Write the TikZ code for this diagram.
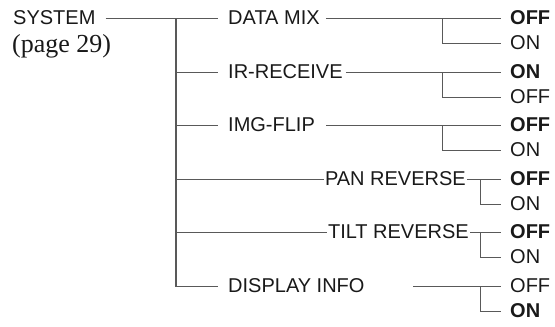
\documentclass[tikz,border=0pt]{standalone}
\usepackage{fontspec}
\setmainfont{Liberation Sans}
\newfontfamily\pageserif{Liberation Serif}
\usetikzlibrary{positioning}

\begin{document}
\begin{tikzpicture}[
  x=1pt, y=-1pt,
  every node/.style={font=\fontsize{20}{22}\selectfont, text=black!90, inner ysep=1pt},
  item/.style={anchor=west, inner xsep=3pt},
  option/.style={anchor=west, inner xsep=9pt},
  link/.style={draw=black!65, line width=1pt},
  trunk/.style={draw=black!65, line width=1.5pt}
]
  \useasboundingbox (0,0) rectangle (555,327);

  \node[anchor=west, inner xsep=0pt] (sys) at (13,18) {SYSTEM};
  \node[anchor=west, inner xsep=0pt, font=\pageserif\fontsize{26}{28}\selectfont] (page) at (12,46) {(page 29)};

  \node[item] (dmix) at (225,18) {DATA MIX};
  \node[item] (irr) at (225,72) {IR-RECEIVE};
  \node[item] (imgf) at (225,125) {IMG-FLIP};
  \node[anchor=east, inner xsep=1pt] (panr) at (467,179) {PAN REVERSE};
  \node[anchor=east, inner xsep=1pt] (tiltr) at (470,232) {TILT REVERSE};
  \node[item] (dinfo) at (225,286) {DISPLAY INFO};

  \node[option] (dmixoff) at (501,18) {\bfseries OFF};
  \node[option] (dmixon) at (501,43) {ON};
  \node[option] (irron) at (501,72) {\bfseries ON};
  \node[option] (irroff) at (501,97) {OFF};
  \node[option] (imgfoff) at (501,125) {\bfseries OFF};
  \node[option] (imgfon) at (501,150) {ON};
  \node[option] (panroff) at (501,179) {\bfseries OFF};
  \node[option] (panron) at (501,204) {ON};
  \node[option] (tiltroff) at (501,232) {\bfseries OFF};
  \node[option] (tiltron) at (501,257) {ON};
  \node[option] (dinfooff) at (501,286) {OFF};
  \node[option] (dinfoon) at (501,311) {\bfseries ON};

  \coordinate (t0) at (176,18);
  \coordinate (t1) at (176,72);
  \coordinate (t2) at (176,125);
  \coordinate (t3) at (176,179);
  \coordinate (t4) at (176,232);
  \coordinate (s0) at (442,18);
  \coordinate (s1) at (442,72);
  \coordinate (s2) at (442,125);
  \coordinate (s3) at (480,179);
  \coordinate (s4) at (480,232);
  \coordinate (s5) at (480,286);
  \coordinate (d5) at (413,286);

  % main tree
  \draw[link] (sys.east) ++(10,0) -- (218,18);
  \draw[trunk] (t0) -- (176,286);
  \draw[link] (175.25,286) -- (218,286);
  \draw[link] (t1) -- (218,72);
  \draw[link] (t2) -- (218,125);
  \draw[link] (t3) -- (panr.west);
  \draw[link] (t4) -- (tiltr.west);

  % settings
  \draw[link] (dmix.east) ++(3,0) -- (dmixoff.west);
  \draw[link] (s0) |- (dmixon.west);
  \draw[link] (irr.east) -- (irron.west);
  \draw[link] (s1) |- (irroff.west);
  \draw[link] (imgf.east) ++(8,0) -- (imgfoff.west);
  \draw[link] (s2) |- (imgfon.west);
  \draw[link] (panr.east) -- (panroff.west);
  \draw[link] (s3) |- (panron.west);
  \draw[link] (tiltr.east) -- (tiltroff.west);
  \draw[link] (s4) |- (tiltron.west);
  \draw[link] (d5) -- (dinfooff.west);
  \draw[link] (s5) |- (dinfoon.west);
\end{tikzpicture}
\end{document}
